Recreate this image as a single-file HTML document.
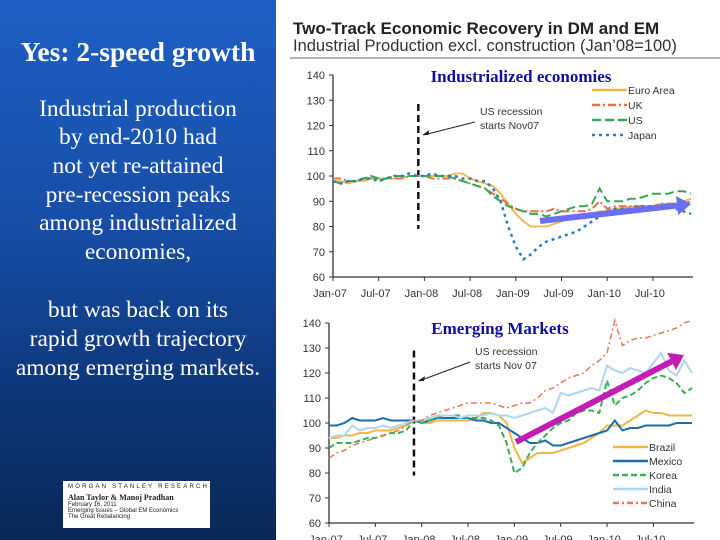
<!DOCTYPE html>
<html><head><meta charset="utf-8"><style>
body{margin:0;width:720px;height:540px;overflow:hidden;background:#fff;position:relative;font-family:"Liberation Sans",sans-serif}
#left{position:absolute;left:0;top:0;width:276px;height:540px;background:linear-gradient(180deg,#1d5fc4 0%,#174fa8 40%,#0d3577 75%,#0a2858 100%);color:#fff;font-family:"Liberation Serif",serif;text-align:center}
.ln{position:absolute;left:0;width:276px;font-size:23.5px;line-height:23px;white-space:nowrap}
#ms{position:absolute;left:63px;top:481px;width:147px;height:47px;background:#fff;color:#222;font-family:"Liberation Sans",sans-serif;text-align:left}
</style></head><body>
<div id="left">
<div class="ln" style="top:38px;font-size:27.5px;line-height:28px;font-weight:bold">Yes: 2-speed growth</div>
<div class="ln" style="top:98px">Industrial production</div>
<div class="ln" style="top:126px">by end-2010 had</div>
<div class="ln" style="top:155px">not yet re-attained</div>
<div class="ln" style="top:184px">pre-recession peaks</div>
<div class="ln" style="top:212px">among industrialized</div>
<div class="ln" style="top:241px">economies,</div>
<div class="ln" style="top:299px">but was back on its</div>
<div class="ln" style="top:328px">rapid growth trajectory</div>
<div class="ln" style="top:357px">among emerging markets.</div>
<div id="ms">
<div style="font-size:6px;letter-spacing:2.2px;margin:3px 0 0 5px">MORGAN STANLEY RESEARCH</div>
<div style="font-size:8px;font-weight:bold;font-family:'Liberation Serif',serif;margin:3px 0 0 5px">Alan Taylor &amp; Manoj Pradhan</div>
<div style="font-size:6px;margin-left:5px">February 16, 2011</div>
<div style="font-size:6px;margin-left:5px">Emerging Issues – Global EM Economics</div>
<div style="font-size:6px;margin-left:5px">The Great Rebalancing</div>
</div>
</div>
<svg id="chart" width="720" height="540" style="position:absolute;left:0;top:0" font-family="Liberation Sans, sans-serif">
<text x="293" y="34" font-size="17" font-weight="bold" fill="#222">Two-Track Economic Recovery in DM and EM</text>
<text x="293" y="51" font-size="16.5" fill="#333">Industrial Production excl. construction (Jan’08=100)</text>
<line x1="290" y1="58" x2="720" y2="58" stroke="#666" stroke-width="1"/>
<text x="521" y="82" font-size="17" font-weight="bold" fill="#1010a0" text-anchor="middle" font-family="Liberation Serif, serif">Industrialized economies</text>
<text x="500" y="334" font-size="17" font-weight="bold" fill="#1010a0" text-anchor="middle" font-family="Liberation Serif, serif">Emerging Markets</text>
<g id="g1"></g><g id="g2"></g>
</svg>
<script>
const monthLabels=["Jan-07","Jul-07","Jan-08","Jul-08","Jan-09","Jul-09","Jan-10","Jul-10"];
const yTicks=[60,70,80,90,100,110,120,130,140];
const euroArea=[98,98,97,98,98,99,99,99,99,99,100,100,100,100,100,100,101,101,99,98,97,96,93,89,85,82,80,80,80,81,82,83,84,85,85,86,86,87,87,88,88,88,88,89,89,89,90,91];
const uk=[99,99,98,98,99,99,98,99,99,99,100,100,100,99,99,99,99,98,97,96,95,93,91,89,87,86,86,86,86,87,86,86,86,86,87,90,87,88,88,88,88,88,88,89,89,89,89,90];
const us=[98,97,98,98,99,100,99,99,100,100,100,100,100,100,100,100,99,98,97,96,95,92,90,88,87,86,85,85,84,85,86,87,88,88,89,95,90,90,90,91,91,92,93,93,93,94,94,93];
const japan=[98,97,98,98,99,99,98,99,100,100,101,100,100,101,100,100,100,99,99,98,98,95,90,80,72,67,69,72,74,75,76,77,78,80,82,84,86,87,87,87,88,88,88,88,88,87,86,85];
const brazil=[94,94,95,95,96,96,97,97,97,98,99,101,100,100,101,101,101,101,101,102,104,104,103,100,90,84,86,88,88,88,89,90,91,92,94,96,99,99,99,101,103,105,104,104,103,103,103,103];
const mexico=[99,99,100,102,101,101,101,102,101,101,101,101,100,101,102,102,102,102,102,101,101,100,100,98,96,94,92,92,93,91,91,92,93,94,95,96,97,101,97,98,98,99,99,99,99,100,100,100];
const korea=[90,92,92,92,93,94,94,95,96,96,97,101,100,101,102,103,103,103,102,102,102,101,99,92,80,82,88,92,95,98,100,101,104,105,105,104,117,107,110,111,113,116,118,119,118,116,112,114];
const india=[94,95,95,99,97,98,98,99,98,99,100,101,101,102,103,103,103,102,103,103,103,104,103,103,102,103,104,105,106,104,112,111,112,113,114,113,123,121,120,122,121,120,124,128,121,119,125,120];
const china=[86,88,89,91,92,93,94,95,96,97,99,101,101,103,104,105,106,107,108,108,108,108,107,106,107,108,108,110,113,114,116,118,119,120,123,125,128,141,131,133,134,134,135,136,137,138,140,141];
const NS='http://www.w3.org/2000/svg';
function mk(p,t,a){const e=document.createElementNS(NS,t);for(const k in a)e.setAttribute(k,a[k]);p.appendChild(e);return e;}
function panel(g,x0,x1,yTop,yBot,series,legend,rec,arrow,labY){
 const xs=m=>x0+(x1-x0)*m/47, ys=v=>yBot-(yBot-yTop)*(v-60)/80;
 const ax=mk(g,'path',{d:`M${x0} ${yTop}V${yBot}H${x1+2}`,stroke:'#333',fill:'none','stroke-width':1.3});
 
 yTicks.forEach(v=>{mk(g,'line',{x1:x0-4,x2:x0,y1:ys(v),y2:ys(v),stroke:'#333'});
  const t=mk(g,'text',{x:x0-8,y:ys(v)+4,'font-size':11,'text-anchor':'end',fill:'#333'});t.textContent=v;
  });
 monthLabels.forEach((l,i)=>{const x=xs(i*6);mk(g,'line',{x1:x,x2:x,y1:yBot,y2:yBot+4,stroke:'#333'});
  const t=mk(g,'text',{x:x-3,y:labY,'font-size':11,'text-anchor':'middle',fill:'#333'});t.textContent=l;
  });
 const rl=mk(g,'line',{x1:xs(rec.m),x2:xs(rec.m),y1:ys(rec.top),y2:ys(79),stroke:'#111','stroke-width':2.5,'stroke-dasharray':'7,4'});
 
 const a1=mk(g,'text',{x:rec.tx,y:rec.ty,'font-size':10.5,fill:'#333'});a1.textContent='US recession';
 
 const a2=mk(g,'text',{x:rec.tx,y:rec.ty+14,'font-size':10.5,fill:'#333'});a2.textContent=rec.t2;
 
 mk(g,'line',{x1:rec.tx-5,y1:rec.ty+7,x2:xs(rec.m)+5,y2:rec.ay,stroke:'#222','stroke-width':1});
 mk(g,'path',{d:`M${xs(rec.m)+4} ${rec.ay}l7 -5l-1 5z`,fill:'#222'});
 series.forEach(s=>{const d=s.v.map((v,i)=>(i?'L':'M')+xs(i).toFixed(1)+' '+ys(v).toFixed(1)).join('');
  const p=mk(g,'path',{d,fill:'none',stroke:s.c,'stroke-width':s.w||2,'stroke-dasharray':s.da||'none'});
  });
 series.forEach((s,i)=>{const y=legend.y+i*legend.dy;
  mk(g,'line',{x1:legend.x,x2:legend.x+35,y1:y,y2:y,stroke:s.c,'stroke-width':2.5,'stroke-dasharray':s.da||'none'});
  const t=mk(g,'text',{x:legend.x+36,y:y+4,'font-size':10.5,fill:'#333'});t.textContent=s.n;
  });
 const ar=mk(g,'g',{});
 const [ax1,ay1,ax2,ay2,c,w]=arrow;const ang=Math.atan2(ay2-ay1,ax2-ax1),L=14;
 const bx=ax2-L*Math.cos(ang),by=ay2-L*Math.sin(ang),px=Math.sin(ang),py=-Math.cos(ang);
 mk(ar,'line',{x1:ax1,y1:ay1,x2:bx,y2:by,stroke:c,'stroke-width':w});
 mk(ar,'path',{d:`M${ax2} ${ay2}L${bx+px*w*1.6} ${by+py*w*1.6}L${bx-px*w*1.6} ${by-py*w*1.6}Z`,fill:c});
}
panel(document.getElementById('g1'),333,691,75,277,
 [{n:'Euro Area',v:euroArea,c:'#f2b646',w:1.8},{n:'UK',v:uk,c:'#e86f4a',da:'8,3,2,3'},{n:'US',v:us,c:'#35a852',da:'9,4'},{n:'Japan',v:japan,c:'#2a7fb8',da:'3,4',w:2.5}],
 {x:592,y:90,dy:15},{m:11.2,top:128.5,tx:480,ty:115,t2:'starts Nov07',ay:135},[540,221,691,204,'#6a6ef0',6],297);
panel(document.getElementById('g2'),329,692,323,523,
 [{n:'Brazil',v:brazil,c:'#f2b646'},{n:'Mexico',v:mexico,c:'#1d6ea8'},{n:'Korea',v:korea,c:'#3cb056',da:'6,3'},{n:'India',v:india,c:'#aed6ee'},{n:'China',v:china,c:'#e8765a',da:'6,3,2,3',w:1.5}],
 {x:613,y:447,dy:14},{m:11,top:129,tx:475,ty:355,t2:'starts Nov 07',ay:381},[516,442,684,355,'#c21cb4',6],543);
</script>
</body></html>
